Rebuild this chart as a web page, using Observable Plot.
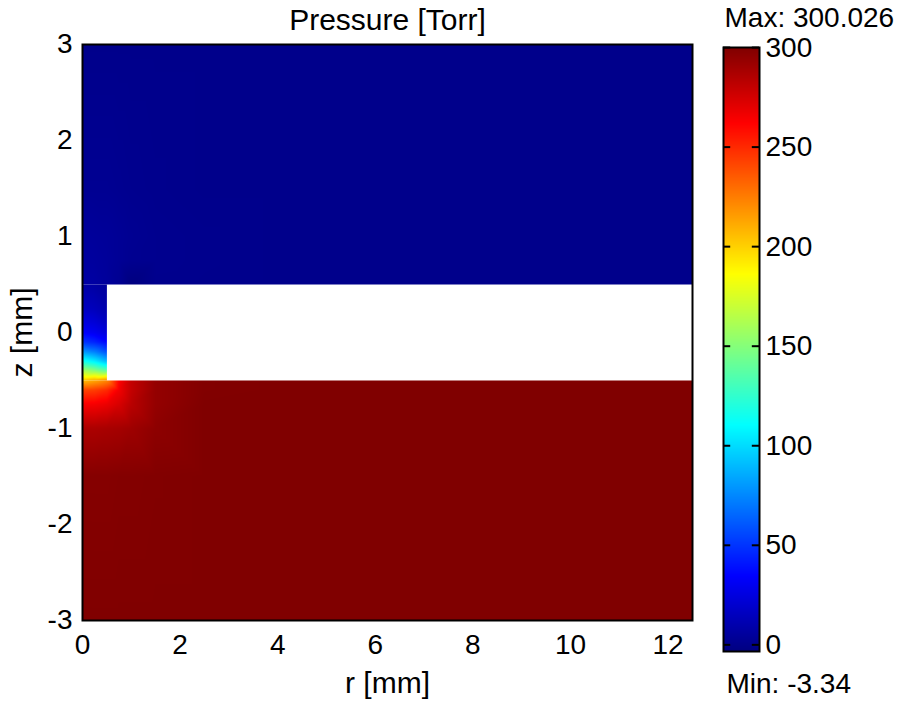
<!DOCTYPE html>
<html>
<head>
<meta charset="utf-8">
<script src="https://cdn.jsdelivr.net/npm/d3@7"></script>
<script src="https://cdn.jsdelivr.net/npm/@observablehq/plot@0.6"></script>
<style>
  body { margin: 0; background: #fff; }
  #chart { display: flex; width: 909px; height: 704px; }
  #chart svg { flex: none; }
</style>
</head>
<body>
<div id="chart"></div>
<script>
// Mesh nodes of the axisymmetric domain, r and z in mm
const rNodes = [0, 0.25, 0.5, 0.75, 1, 1.5, 2.5, 4, 6, 8, 10, 12.5];
const orificeR = [0, 0.25, 0.5];

// Upper (low-pressure) chamber, z >= 0.5; pressure in Torr, one row per z level
const upperZ = [3, 1.5, 1, 0.75, 0.5];
const upperP = [
  [0,   0,   0,   0,   0,     0,   0,   0, 0, 0, 0, 0],
  [2,   2,   2,   1.5, 1,     0.5, 0,   0, 0, 0, 0, 0],
  [5,   4.5, 4,   3,   2,     1,   0.5, 0, 0, 0, 0, 0],
  [6,   5.5, 4.5, 3,   1.5,   1,   0.5, 0, 0, 0, 0, 0],
  [8,   7,   5,   2,   -3.34, 0.5, 0.3, 0, 0, 0, 0, 0]
];

// Orifice channel, 0 <= r <= 0.5 and -0.5 <= z <= 0.5
const orificeZ = [0.5, 0.25, 0.1, 0, -0.1, -0.2, -0.3, -0.4, -0.5];
const orificeP = [
  [8,   7,   5],
  [16,  14,  10],
  [26,  23,  17],
  [34,  30,  24],
  [50,  45,  36],
  [80,  72,  58],
  [116, 106, 90],
  [162, 152, 140],
  [205, 212, 222]
];

// Lower (high-pressure) chamber, z <= -0.5
const lowerZ = [-0.5, -0.6, -0.75, -1, -1.5, -3];
const lowerP = [
  [205,   212,   222,   262, 280, 294,   299.5, 300, 300, 300, 300, 300],
  [242,   244,   250,   266, 280, 294,   299.5, 300, 300, 300, 300, 300],
  [264,   265,   268,   274, 283, 294,   300,   300, 300, 300, 300, 300],
  [287,   287,   288,   289, 291, 296,   300,   300, 300, 300, 300, 300],
  [298.5, 298.5, 298.5, 299, 299, 299.5, 300,   300, 300, 300, 300, 300],
  [300.026, 300, 300,   300, 300, 300,   300,   300, 300, 300, 300, 300]
];

// Axis and colorbar ticks
const rTicks = [0, 2, 4, 6, 8, 10, 12];
const zTicks = [-3, -2, -1, 0, 1, 2, 3];
const barTicks = [0, 50, 100, 150, 200, 250, 300];

const toNodes = (zs, rs, ps) => zs.flatMap((z, i) => rs.map((r, j) => ({r, z, p: ps[i][j]})));
const upperNodes = toNodes(upperZ, rNodes, upperP);
const orificeNodes = toNodes(orificeZ, orificeR, orificeP);
const lowerNodes = toNodes(lowerZ, rNodes, lowerP);

const [pMin, pMax] = d3.extent([...upperNodes, ...orificeNodes, ...lowerNodes], d => d.p);

// Jet colormap stretched over the data range
const jetStops = [0, 0.125, 0.375, 0.625, 0.875, 1];
const jetColors = ["#000080", "#0000ff", "#00ffff", "#ffff00", "#ff0000", "#800000"];
const colorScale = {
  type: "linear",
  domain: jetStops.map(t => pMin + t * (pMax - pMin)),
  range: jetColors,
  interpolate: "rgb"
};

const font = "'Liberation Sans', Arial, Helvetica, sans-serif";
const fs = 28;      // tick labels, min/max
const fsLabel = 30; // title and axis titles

const field = {x: "r", y: "z", fill: "p", interpolate: "barycentric"};

const main = Plot.plot({
  width: 700,
  height: 704,
  marginLeft: 82,
  marginRight: 8,
  marginTop: 44,
  marginBottom: 84,
  x: {domain: [0, 12.5]},
  y: {domain: [-3, 3]},
  color: colorScale,
  style: {fontFamily: font, fontSize: fs + "px", color: "black", background: "white"},
  marks: [
    Plot.raster(upperNodes, {...field, x1: 0, x2: 12.5, y1: 0.5, y2: 3}),
    Plot.raster(orificeNodes, {...field, x1: 0, x2: 0.5, y1: -0.5, y2: 0.5}),
    Plot.raster(lowerNodes, {...field, x1: 0, x2: 12.5, y1: -3, y2: -0.5}),
    Plot.frame({stroke: "black", strokeWidth: 2}),
    Plot.axisX({ticks: rTicks, tickSize: 0, tickPadding: 14, label: null, tickFormat: d => String(d), fontSize: fs}),
    Plot.axisY({ticks: zTicks, tickSize: 0, tickPadding: 10, label: null, tickFormat: d => String(d), fontSize: fs}),
    Plot.text(["Pressure [Torr]"], {text: d => d, frameAnchor: "top", lineAnchor: "middle", dy: -24, fontSize: fsLabel}),
    Plot.text(["r [mm]"], {text: d => d, frameAnchor: "bottom", lineAnchor: "middle", dy: 63, fontSize: fsLabel}),
    Plot.text(["z [mm]"], {text: d => d, frameAnchor: "left", textAnchor: "middle", lineAnchor: "middle", dx: -60, rotate: -90, fontSize: fsLabel})
  ]
});

const bar = Plot.plot({
  width: 209,
  height: 704,
  marginLeft: 23,
  marginRight: 150,
  marginTop: 47,
  marginBottom: 53,
  x: {domain: [0, 1], axis: null},
  y: {domain: [pMin, pMax], axis: null},
  color: colorScale,
  style: {fontFamily: font, fontSize: fs + "px", color: "black", background: "white", overflow: "visible"},
  marks: [
    Plot.raster({fill: (x, y) => y, x1: 0, x2: 1, y1: pMin, y2: pMax}),
    Plot.ruleY(barTicks, {x1: 0, x2: 0.2, stroke: "black", strokeWidth: 2}),
    Plot.ruleY(barTicks, {x1: 0.8, x2: 1, stroke: "black", strokeWidth: 2}),
    Plot.frame({stroke: "black", strokeWidth: 2}),
    Plot.text(barTicks, {x: 1, y: d => d, text: d => String(d), dx: 6, textAnchor: "start", lineAnchor: "middle", fontSize: fs}),
    Plot.text([`Max: ${pMax}`], {text: d => d, frameAnchor: "top-left", lineAnchor: "middle", dx: 1, dy: -29, textAnchor: "start", fontSize: fs}),
    Plot.text([`Min: ${pMin}`], {text: d => d, frameAnchor: "bottom-left", lineAnchor: "middle", dx: 3, dy: 33, textAnchor: "start", fontSize: fs})
  ]
});

const chart = document.getElementById("chart");
chart.append(main, bar);
</script>
</body>
</html>
